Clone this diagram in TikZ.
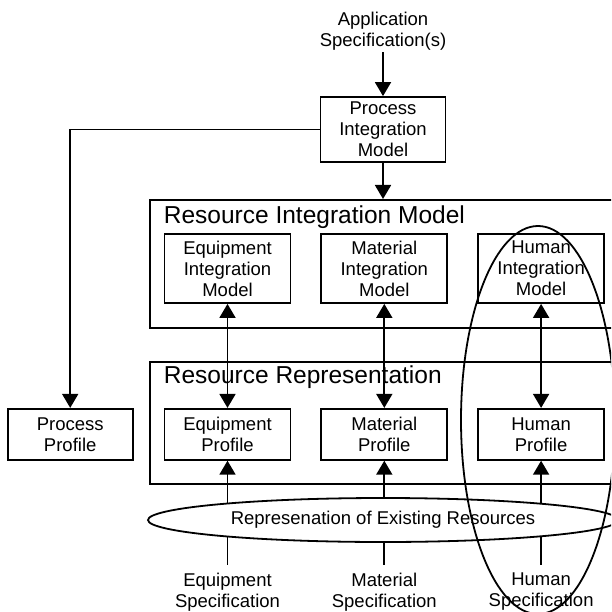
\documentclass[tikz,border=0pt]{standalone}
\usepackage{fontspec}
\setmainfont{Liberation Sans}
\usetikzlibrary{positioning,arrows.meta,shapes.geometric}

\begin{document}
\begin{tikzpicture}[
        x=1pt, y=-1pt, line width=1.8pt,
        >={Triangle[length=14pt,width=16pt]},
        box/.style={draw, align=center, minimum width=126pt, inner sep=2pt, font=\fontsize{18.5}{21}\selectfont},
        model/.style={box, minimum height=69pt},
        profile/.style={box, minimum height=51pt},
        group/.style={draw, anchor=north west, minimum width=471pt, inner sep=0pt},
        ttl/.style={anchor=base west, inner sep=0pt, font=\fontsize{24.5}{28}\selectfont},
        lbl/.style={align=center, font=\fontsize{18.5}{21}\selectfont},
        node distance=29pt
    ]
        \path[use as bounding box, clip] (0,0) rectangle (611,612);

        \node[box, minimum width=125pt, minimum height=65pt] (pim) at (383,129.5) {Process\\Integration\\Model};
        \node[lbl, inner sep=1pt, above=44pt of pim] (app) {Application\\Specification(s)};

        % resource integration model
        \node[group, minimum height=128pt] (rim) at (149,199) {};
        \node[ttl] at ([xshift=14pt, yshift=-24pt]rim.north west) {Resource Integration Model};
        \node[model] (eim) at (227.5,268.5) {Equipment\\Integration\\Model};
        \node[model, right=of eim] (mim) {Material\\Integration\\Model};
        \node[model, right=of mim] (him) {Human\\Integration\\Model};

        % resource representation
        \node[group, minimum height=122pt] (rr) at (149,361) {};
        \node[ttl] at ([xshift=14pt, yshift=-22pt]rr.north west) {Resource Representation};
        \node[profile, below=104pt of eim] (eprof) {Equipment\\Profile};
        \node[profile, below=104pt of mim] (mprof) {Material\\Profile};
        \node[profile, below=104pt of him] (hprof) {Human\\Profile};
        \node[profile, minimum width=125pt, left=30pt of eprof] (pp) {Process\\Profile};

        \node[lbl, inner sep=7pt, below=104pt of eprof] (espec) {Equipment\\Specification};
        \node[lbl, inner sep=7pt, below=104pt of mprof] (mspec) {Material\\Specification};
        \node[lbl, inner sep=7pt, below=104pt of hprof] (hspec) {Human\\Specification};

        \draw[->] (app) -- (pim);
        \draw[->] (pim) -- (pim.south |- rim.north);
        \draw[->] (pim.west) -| (pp.north);

        \draw[<->] (eim) -- (eprof);
        \draw[<->] (mim) -- (mprof);
        \draw[<->] (him) -- (hprof);

        \draw[->] (espec) -- (eprof);
        \draw[->] (mspec) -- (mprof);
        \draw[->] (hspec) -- (hprof);

        % existing resources, filled so that it breaks the lines underneath
        \node[draw, ellipse, fill=white, minimum width=470pt, minimum height=44pt, inner sep=0pt,
              font=\fontsize{18.5}{21}\selectfont] (rer) at (383,520) {Represenation of Existing Resources};
        \node[draw, ellipse, minimum width=154pt, minimum height=388pt] (hgrp) at (538,420) {};
    \end{tikzpicture}
\end{document}
